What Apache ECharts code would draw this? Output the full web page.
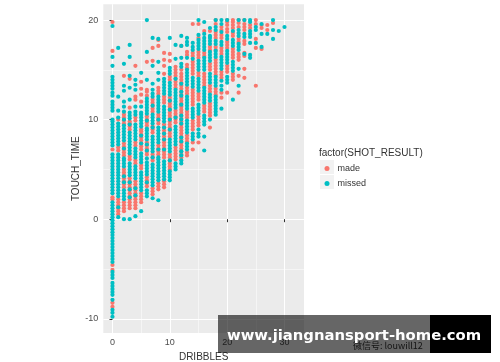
<!DOCTYPE html>
<html><head><meta charset="utf-8">
<style>html,body{margin:0;padding:0;background:#fff}#c{width:500px;height:362px}</style>
<script src="https://cdn.jsdelivr.net/npm/echarts@6/dist/echarts.min.js"></script>
</head><body><div id="c"></div>
<script>
const xMajorTicks = [0, 10, 20, 30];
const xMinorTicks = [5, 15, 25];
const yMajorTicks = [-10, 0, 10, 20];
const yMinorTicks = [-5, 5, 15];
const seriesNames = ['made', 'missed'];

// TOUCH_TIME values read per DRIBBLES column (index = dribbles)
const madeByDribbles = [
 [-8.8,-8.4,-5.1,-4.6,2.0,2.2,7.0,16.9,19.8],
 [.5,.8,1.1,1.4,1.7,2.0,6.9,7.2,10.0],
 [.8,1.1,1.4,1.7,3.2,3.5,3.8,4.1,4.4,4.7,5.0,6.4,6.7,7,7.3,7.6,9.6,9.9,10.2,10.5,14.4],
 [1.1,1.4,1.7,2,2.3,2.6,2.9,3.2,3.5,3.8,4.1,6,6.3,9,9.3,9.6,9.8,11.2,14.1],
 [1.1,1.4,1.7,2,2.3,2.6,2.9,3.2,3.5,3.8,5.6,5.9,7.4,7.7,9.9,10.2,12,12.3,15.4],
 [1.7,2,2.3,2.6,5.1,5.4,7,7.3,7.6,7.9,8.2,8.5,8.8,9,11.8,12.5,13.1,13.8],
 [3.3,3.6,3.9,4.2,6.5,6.8,7.1,7.4,7.7,9.4,9.7,10,10.3,12.4,12.8,13,15.8],
 [2.5,2.8,3.1,5.9,6.2,6.5,8.7,9,9.3,10.8,11.1,11.4,11.7,12,15.9,17.2],
 [3,3.3,3.6,6.5,6.8,7.1,7.4,9.6,9.9,10.2,10.5,12.6,12.9,13.2,17.4,18],
 [3.2,3.5,3.8,6.2,6.5,6.8,7.1,7.4,7.7,8,8.3,8.6,8.9,9.2,9.5,11.7,12,12.3,14.6,15.4,16,16.7],
 [5,5.3,5.6,5.9,6.2,6.5,8.3,8.6,8.9,9.2,9.5,9.8,10.1,10.4,10.7,11,11.3,11.6,11.9,12.2,14,14.3,15.9,16.6],
 [6,6.3,6.6,6.9,7.2,9.7,10,10.3,10.6,10.9,13.2,13.5,13.8,14.1,14.4,14.7,15,15.3],
 [6.2,6.5,6.8,7.1,7.4,7.7,8,8.3,8.6,8.9,9.2,9.5,9.8,10.1,10.4,10.7,11,11.3,11.6,11.9,12.2,12.5,12.8,13.1,13.4,13.7,14,14.3,14.6,15,17.4],
 [6.4,6.7,7.8,8.1,8.4,10.2,10.5,10.8,12.6,12.9,13.2,15.2,15.5,16.5,16.8],
 [7,7.7,9,9.3,9.6,9.9,11.5,11.8,12.1,12.4,12.7,13,14.6,14.9,15.2,15.5,15.8,16.4,16.7,19.6],
 [7.7,9.4,9.7,10,10.3,12,12.3,12.6,14.4,14.7,16.2,16.5,16.8,18.2,19.6],
 [10.8,11.1,11.4,13.4,13.7,14,14.3,14.6,16.4,16.7,18.9],
 [9.2,10.4,10.7,11,11.3,11.6,12.8,13.1,13.4,15,15.3,15.6,17,17.3,18.9],
 [12.5,12.8,13.1,14.5,14.8,15.1,15.4,15.7,16,17,17.3,18.2,18.5,18.8,19.6,20],
 [12.2,12.7,14.2,14.5,14.8,16.6,16.9,17.2,18.2,18.5,19,19.3],
 [12.7,14.8,15.1,15.4,17.2,17.5,17.8,18.8,19.1,19.5,19.8,20],
 [14,14.3,14.6,16.2,16.5,16.8,17.1,18.4,18.7,19.2,19.5,19.8,20],
 [12.7,14.4,16,16.3,16.6,17.8,18.1,19.3,19.7,20],
 [14.2,15.1,16.4,16.7,17.6,17.9,19,19.3,19.6,20],
 [19.2,19.5],
 [13.4,17.2,18.1,19.6,20],
 [17.1,19.2,19.5],
 [19.5,19],
 [19.7],
 [],[]
];
const missedByDribbles = [
 [-9.8,-9.4,-9.1,-8.1,-7.6,-7.3,-7,-6.7,-6.4,-5.9,-5.6,-5.3,-4.3,-4,-3.7,-3.4,-3.1,-2.8,-2.5,-2.2,-1.9,-1.6,-1.3,-1,-.7,-.4,-.1,.2,.5,.8,1.1,1.4,1.7,2.6,2.9,3.2,3.5,3.8,4.1,4.4,4.7,5,5.3,5.6,5.9,6.2,6.5,7.4,7.7,8,8.3,8.6,8.9,9.2,9.5,9.8,10,10.9,11.2,11.5,11.8,12.4,12.7,13.1,13.4,13.7,14,14.3,15.4,16.3,19.4],
 [.2,1.2,2.3,2.6,2.9,3.2,3.5,3.8,4.1,4.4,4.7,5,5.3,5.6,5.9,6.2,6.5,7.5,7.8,8.1,8.4,8.7,9,9.3,9.6,10.2,10.9,12.3,17.2],
 [0,2,2.3,2.6,2.9,3.7,4.3,5.3,5.6,5.9,6.1,7.1,7.9,8.2,8.5,8.8,9.1,9.4,10,10.8,11.3,11.8,12.9,13.4,15.6],
 [0,2.2,3,3.7,4.4,4.7,5,5.3,5.6,6.6,6.9,7.2,7.5,7.8,8.1,8.4,8.7,9.5,10.1,10.4,10.7,12,13.2,14.4,16.3,17.5],
 [.3,2.4,3.1,4.1,4.4,4.7,5,5.3,6.2,6.5,6.8,7.1,8,8.3,8.6,8.9,9.2,9.5,10.5,10.8,11.3,13,13.5,14],
 [.8,2.9,3.2,3.5,3.8,4.1,4.4,4.7,5.7,6,6.3,6.6,7.6,8.4,9.3,9.6,9.9,10.2,10.5,10.7,11.3,14.7],
 [2.3,2.6,2.9,3.7,4.5,4.8,5.1,5.4,5.7,6.1,6.9,7.5,8,8.3,8.6,8.9,9.1,9.9,10.6,10.9,11.2,11.5,11.8,12.1,14,16.8,20],
 [2.1,3.4,3.7,4,4.3,4.6,4.9,5.2,5.5,6.2,6.8,7.1,7.4,7.7,8,8.3,9.2,9.6,9.9,10.2,10.5,11.4,12.3,12.6,13,13.6,15.4,18.2],
 [1.9,3.9,4.2,4.5,4.8,5.1,5.4,5.7,6,6.2,7,7.7,8,8.3,8.6,8.9,9.2,10,10.8,11.1,11.4,11.7,12,12.3,14,14.7,15.8,18.1],
 [4,4.3,4.6,4.9,5.2,5.5,5.8,7,8,8.6,9.2,9.8,10.1,10.4,10.7,11,11.3,12.6,12.9,13.2,13.5,13.8,14.1],
 [3.9,4.2,4.5,4.8,5.9,6.8,7.1,7.4,7.7,8,9,10,11,11.9,12.5,12.8,13.1,13.4,13.7,14.6,14.9,15.2,18.2],
 [5,5.3,5.6,7.5,7.8,8.1,8.4,8.7,9,9.3,10.2,11.2,11.5,11.8,12.1,12.4,12.7,13,14.1,16.1,17.5],
 [5.6,5.9,6.4,6.8,7.8,8.2,9.6,10,10.4,11.5,12.4,12.8,13.6,15.3,15.6,16.2,17.4,18.4],
 [7,7.3,7.6,8.7,9,9.3,9.6,9.9,11.1,11.4,11.7,12,12.3,13.5,13.8,14.1,14.4,14.7,15,16.2,17.5,17.8,18.2],
 [8,8.3,8.6,10.2,10.5,10.8,11.1,13.3,13.6,13.9,14.2,16.1,17,17.3,17.7],
 [8.3,8.6,9,10.6,10.9,11.2,11.5,12.9,13.2,13.5,13.8,14.1,15,15.3,15.6,15.9,17.1,17.4,17.7,18,18.5,20],
 [6.9,8.3,9.5,9.8,10.1,10.4,11.7,12,12.3,12.6,12.9,13.2,15,15.3,15.6,15.9,16.2,17,17.3,17.6,17.9,18.2,18.6,19.8],
 [10,11.9,12.2,12.5,13.7,14,14.3,14.6,15.9,16.2,16.5,16.8,17.6,17.9,18.2,18.4,19.2],
 [10.5,10.8,11.1,11.4,11.7,12,12.3,13.4,13.7,14,14.3,16.3,16.6,16.9,17.6,17.9,19,19.3,20],
 [11.1,13,13.4,13.9,15.1,15.4,15.7,16,16.3,17.5,17.8,18.8,19.6,20],
 [13.7,14,14.3,15.7,16,16.3,16.6,16.9,18.1,18.4,20],
 [12,14.9,15.2,15.5,15.8,17.4,17.7,18,18.9],
 [13.4,15.1,17,17.3,17.6,18.4,18.7,19,20],
 [16.6,18.3,18.6,20],
 [16.2,16.5,17.7,18.3,18.6,18.9,19.8,20],
 [17.7,19,19.3],
 [17.3,18.6,19.6],
 [18.6],
 [18.1,19,20],
 [18.9],
 [19.3]
];

const toPoints = cols => cols.flatMap((vals, x) => vals.map(y => [x, y]));
const tickColor = '#333333', labelColor = '#4d4d4d';
const major = {color:'#fff', width:1}, minor = {color:'#fff', width:0.5};
const labelFont = {color:labelColor, fontSize:9, fontFamily:'Liberation Sans'};
const nameFont = {color:'#333', fontSize:10, fontFamily:'Liberation Sans'};
const X = [-1.6, 33.4], Y = [-11.43, 21.58];

const chart = echarts.init(document.getElementById('c'), null, {renderer:'canvas'});
chart.setOption({
 animation:false,
 backgroundColor:'#fff',
 grid:{left:103.3, right:196, top:4.3, bottom:29, show:true, backgroundColor:'#ebebeb', borderWidth:0, outerBoundsMode:'none', containLabel:false},
 xAxis:[
  {type:'value', min:X[0], max:X[1], name:'DRIBBLES', nameLocation:'middle', nameGap:16, nameTextStyle:nameFont,
   axisLine:{show:false}, axisTick:{length:3, lineStyle:{color:tickColor}, customValues:xMajorTicks},
   axisLabel:{...labelFont, margin:5, customValues:xMajorTicks, showMinLabel:true, showMaxLabel:true}, splitLine:{lineStyle:major}},
  {type:'value', min:X[0], max:X[1], position:'bottom', axisLine:{show:false},
   axisTick:{show:false, customValues:xMinorTicks}, axisLabel:{show:false, customValues:xMinorTicks}, splitLine:{lineStyle:minor}}
 ],
 yAxis:[
  {type:'value', min:Y[0], max:Y[1], name:'TOUCH_TIME', nameLocation:'middle', nameGap:21, nameTextStyle:nameFont,
   axisLine:{show:false}, axisTick:{length:3, lineStyle:{color:tickColor}, customValues:yMajorTicks},
   axisLabel:{...labelFont, margin:5, customValues:yMajorTicks}, splitLine:{lineStyle:major}},
  {type:'value', min:Y[0], max:Y[1], position:'left', axisLine:{show:false},
   axisTick:{show:false, customValues:yMinorTicks}, axisLabel:{show:false, customValues:yMinorTicks}, splitLine:{lineStyle:minor}}
 ],
 legend:{orient:'vertical', left:324.5, top:163, itemWidth:5, itemHeight:5, itemGap:4, icon:'circle',
  data:seriesNames, textStyle:{color:'#333', fontSize:9, fontFamily:'Liberation Sans', padding:[0,0,0,3], lineHeight:11}, padding:0, z:20},
 series:[
  {name:seriesNames[0], type:'scatter', symbolSize:4.2, itemStyle:{color:'#F8766D', opacity:1}, data:toPoints(madeByDribbles), z:3},
  {name:seriesNames[1], type:'scatter', symbolSize:4.2, itemStyle:{color:'#00BFC4', opacity:1}, data:toPoints(missedByDribbles), z:4}
 ],
 graphic:[
  {type:'text', left:319, top:148, z:5, style:{text:'factor(SHOT_RESULT)', fill:'#333', font:'10px "Liberation Sans"'}},
  {type:'rect', left:320, top:160, z:0, shape:{width:14,height:14}, style:{fill:'#f2f2f2'}},
  {type:'rect', left:320, top:175, z:0, shape:{width:14,height:14}, style:{fill:'#f2f2f2'}},
  {type:'text', left:353, top:341, z:50, style:{text:'微信号: louwill12', fill:'#333', font:'9px "Noto Sans CJK SC"'}},
  {type:'rect', left:218, top:315, z:100, shape:{width:212,height:38}, style:{fill:'rgba(0,0,0,0.6)'}},
  {type:'rect', left:430, top:315, z:100, shape:{width:61,height:38}, style:{fill:'#000'}},
  {type:'text', left:227, top:329, z:101, style:{text:'www.jiangnansport-home.com', fill:'#fff', font:'bold 14.8px "DejaVu Sans"'}}
 ]
});
</script></body></html>
